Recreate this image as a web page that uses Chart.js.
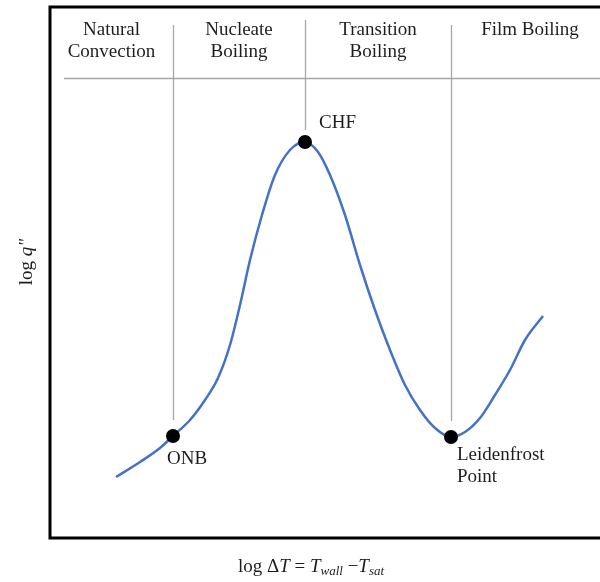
<!DOCTYPE html>
<html>
<head>
<meta charset="utf-8">
<script src="https://cdn.jsdelivr.net/npm/chart.js@4"></script>
<style>
  html, body { margin: 0; padding: 0; background: #fff; }
  #wrap { width: 600px; height: 582px; }
</style>
</head>
<body>
<div id="wrap"><canvas id="boilChart"></canvas></div>
<script>
// boiling curve (arbitrary log units)
var curveX = [13.2, 18, 22, 24.6, 28, 31, 33.6, 36, 38, 40, 42.4, 45, 48, 51, 53.6, 56, 59, 62, 65, 68, 71, 74, 77, 80.2, 83, 86, 89, 92, 95, 98.6];
var curveY = [12.2, 15.2, 18, 20.4, 23.6, 27.6, 32, 38.6, 46.6, 55.6, 64.6, 72.6, 77.6, 79.2, 77.2, 72.6, 64.6, 54.6, 45.6, 37.6, 30.6, 25.6, 22, 20.2, 21.2, 24, 28.6, 33.6, 39.6, 44.4];

// marked points
var pointNames = ['ONB', 'CHF', 'Leidenfrost Point'];
var pointX = [24.6, 51, 80.2];
var pointY = [20.4, 79.2, 20.2];

// regimes shown across the top
var regimeNames = [['Natural', 'Convection'], ['Nucleate', 'Boiling'], ['Transition', 'Boiling'], ['Film Boiling']];

var serif = '"Liberation Serif", "DejaVu Serif", serif';
var fs = '19px ';

var decorPlugin = {
    id: 'decor',
    beforeDatasetsDraw: function (chart) {
        var c = chart.ctx, a = chart.chartArea;
        var xs = chart.scales.x, ys = chart.scales.y;
        c.save();
        // grey regime dividers, stopping just above each marked point
        c.strokeStyle = '#a6a6a6';
        c.lineWidth = 1.3;
        var tops = [25, 20, 25];
        var ends = [pointY[0] + 3.2, pointY[1] + 2.4, pointY[2] + 3.2];
        for (var i = 0; i < pointX.length; i++) {
            var px = Math.round(xs.getPixelForValue(pointX[i])) + 0.5;
            c.beginPath();
            c.moveTo(px, tops[i]);
            c.lineTo(px, ys.getPixelForValue(ends[i]));
            c.stroke();
        }
        // horizontal line under the regime labels
        c.beginPath();
        c.moveTo(64, 78.5);
        c.lineTo(a.right, 78.5);
        c.stroke();
        c.restore();
    },
    afterDraw: function (chart) {
        var c = chart.ctx, a = chart.chartArea;
        var xs = chart.scales.x, ys = chart.scales.y;
        c.save();
        // frame: top, left, bottom
        c.strokeStyle = '#000';
        c.lineWidth = 3;
        c.beginPath();
        c.moveTo(a.right + 2, a.top);
        c.lineTo(a.left, a.top);
        c.lineTo(a.left, a.bottom);
        c.lineTo(a.right + 2, a.bottom);
        c.stroke();

        c.fillStyle = '#1e1e1e';
        c.font = fs + serif;
        c.textBaseline = 'middle';

        // regime labels centred between dividers
        var bounds = [a.left].concat(pointX.map(function (v) { return xs.getPixelForValue(v); })).concat([a.right + 9]);
        c.textAlign = 'center';
        for (var r = 0; r < regimeNames.length; r++) {
            var cx = (bounds[r] + bounds[r + 1]) / 2;
            for (var l = 0; l < regimeNames[r].length; l++) {
                c.fillText(regimeNames[r][l], cx, 30 + l * 22);
            }
        }

        // point labels
        c.textAlign = 'left';
        c.fillText('ONB', xs.getPixelForValue(pointX[0]) - 6, ys.getPixelForValue(pointY[0]) + 23);
        c.fillText('CHF', xs.getPixelForValue(pointX[1]) + 14, ys.getPixelForValue(pointY[1]) - 19);
        c.fillText('Leidenfrost', xs.getPixelForValue(pointX[2]) + 6, ys.getPixelForValue(pointY[2]) + 18);
        c.fillText('Point', xs.getPixelForValue(pointX[2]) + 6, ys.getPixelForValue(pointY[2]) + 40);

        // y axis title
        c.save();
        c.translate(27, 262);
        c.rotate(-Math.PI / 2);
        c.font = fs + serif;
        var w1 = c.measureText('log ').width;
        c.font = 'italic ' + fs + serif;
        var w2 = c.measureText('q"').width;
        var sx = -(w1 + w2) / 2;
        c.textAlign = 'left';
        c.font = fs + serif;
        c.fillText('log ', sx, 0);
        c.font = 'italic ' + fs + serif;
        c.fillText('q"', sx + w1, 0);
        c.restore();

        // x axis title with subscripts
        var parts = [
            ['log \u0394', fs, 0],
            ['T', 'italic ' + fs, 0],
            [' = ', fs, 0],
            ['T', 'italic ' + fs, 0],
            ['wall', 'italic 13px ', 5],
            [' \u2212', fs, 0],
            ['T', 'italic ' + fs, 0],
            ['sat', 'italic 13px ', 5]
        ];
        var total = 0;
        parts.forEach(function (p) { c.font = p[1] + serif; total += c.measureText(p[0]).width; });
        var tx = 311 - total / 2;
        c.textAlign = 'left';
        parts.forEach(function (p) {
            c.font = p[1] + serif;
            c.fillText(p[0], tx, 567 + p[2]);
            tx += c.measureText(p[0]).width;
        });
        c.restore();
    }
};

new Chart(document.getElementById('boilChart'), {
    type: 'line',
    data: {
        datasets: [{
            label: 'points',
            data: pointX.map(function (x, i) { return { x: x, y: pointY[i] }; }),
            showLine: false,
            pointRadius: 7,
            pointBackgroundColor: '#000',
            pointBorderWidth: 0,
            order: 0
        }, {
            label: 'q',
            data: curveX.map(function (x, i) { return { x: x, y: curveY[i] }; }),
            borderColor: '#4472c4',
            borderWidth: 2.5,
            pointRadius: 0,
            cubicInterpolationMode: 'monotone',
            fill: false,
            order: 1
        }]
    },
    options: {
        responsive: true,
        maintainAspectRatio: false,
        animation: false,
        layout: { autoPadding: false, padding: { left: 50, top: 7, right: 0, bottom: 44 } },
        plugins: { legend: { display: false }, tooltip: { enabled: false } },
        scales: {
            x: { type: 'linear', min: 0, max: 110, display: false },
            y: { type: 'linear', min: 0, max: 106.2, display: false }
        }
    },
    plugins: [decorPlugin]
});
</script>
</body>
</html>
